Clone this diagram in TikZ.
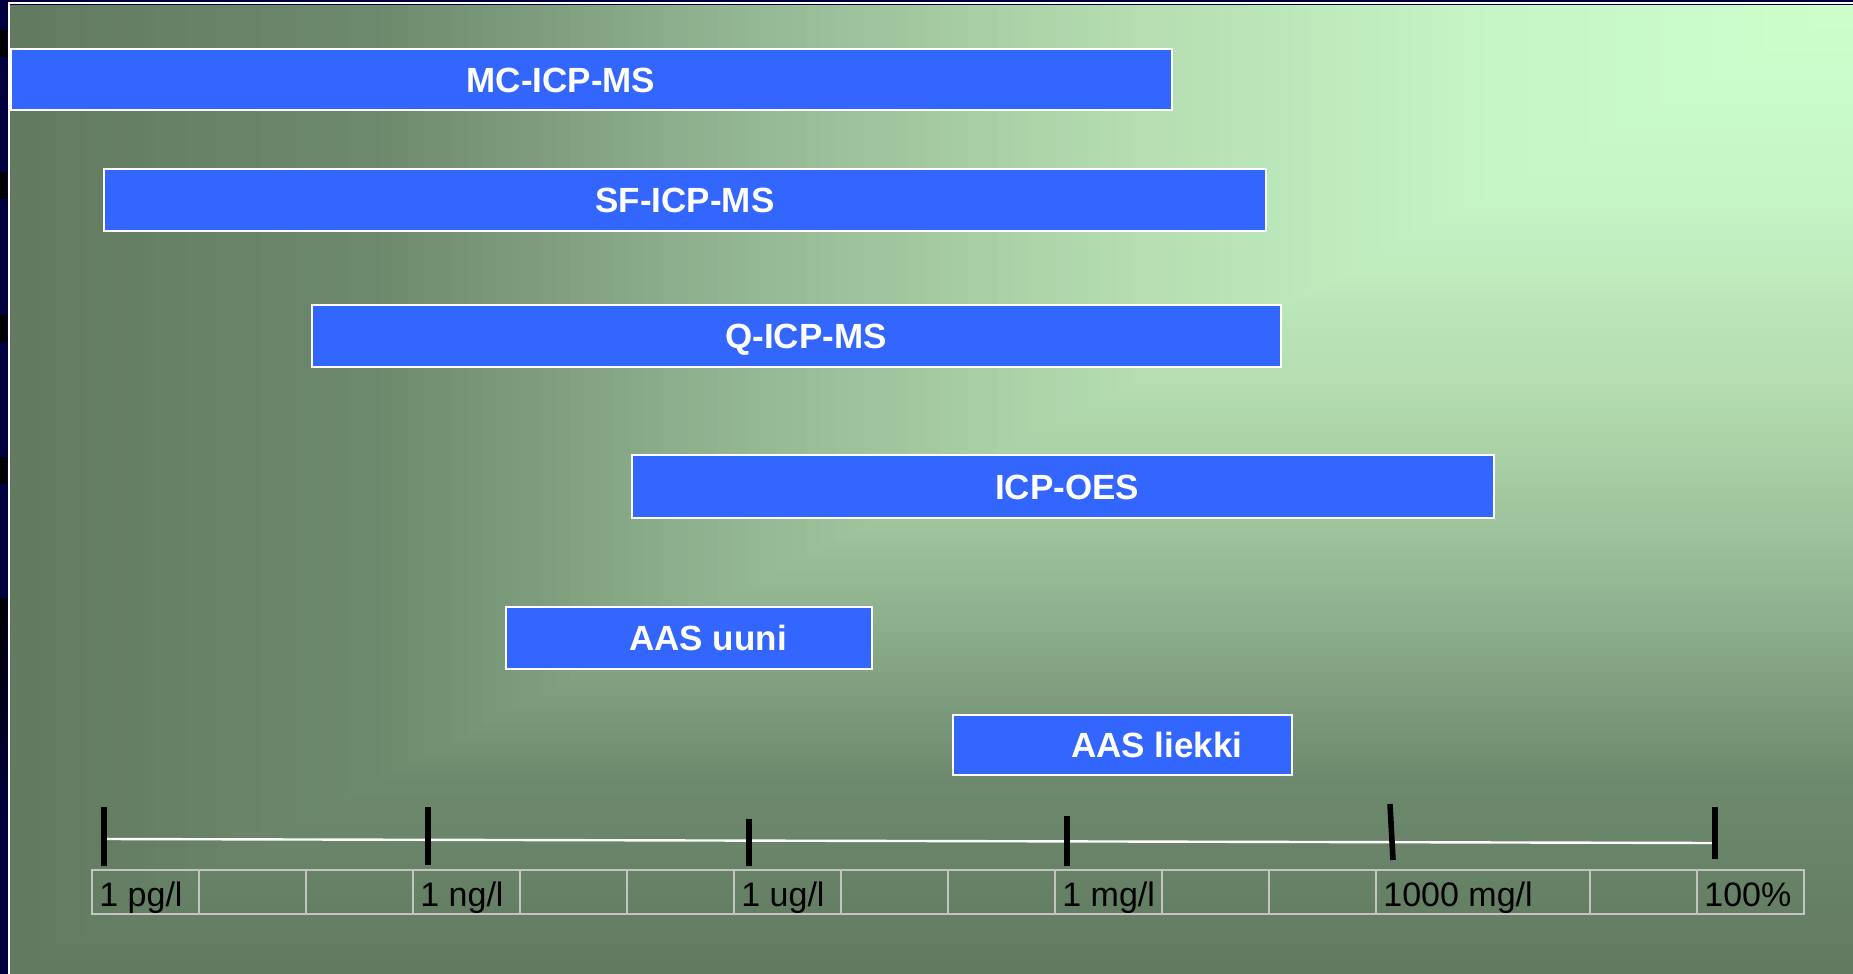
\documentclass[tikz,border=0pt]{standalone}
\usepackage{fontspec}
\setmainfont{Liberation Sans}
\definecolor{navy}{HTML}{00003F}
\definecolor{barblue}{HTML}{3366FF}
\definecolor{cellgray}{HTML}{C4C4C4}
\definecolor{bgA}{HTML}{617A60}
\definecolor{bgB}{HTML}{6E8A6E}
\definecolor{bgC}{HTML}{95B894}
\definecolor{bgD}{HTML}{B4DCB0}
\definecolor{bgE}{HTML}{C6F5C6}
\definecolor{bgF}{HTML}{CCFFCC}
\begin{document}
\begin{tikzpicture}[x=0.5pt, y=-0.5pt,
    bar/.style={fill=barblue, draw=white, line width=1.2pt},
    barlabel/.style={text=white, font=\fontsize{17.5}{20}\selectfont\bfseries, inner sep=0pt, text depth=0pt},
    tick/.style={black, line width=2.8pt},
    cell/.style={cellgray, line width=1.4pt},
    unitlabel/.style={anchor=base west, inner sep=0pt, font=\fontsize{17}{20}\selectfont}]
        \useasboundingbox (0,0) rectangle (1853,974);
        \fill[navy] (0,0) rectangle (1853,974);
        \foreach \y in {30,172,315,457} \fill[black] (0,\y) rectangle (7,\y+27);
        \shade[top color=black, bottom color=navy] (0,598) rectangle (7,830);

        % background, lighter towards the top right corner
        \foreach \ta/\tb/\ca/\cb in {1/0.8/bgA/bgB, 0.8/0.6/bgB/bgC, 0.6/0.4/bgC/bgD, 0.4/0.2/bgD/bgE, 0.2/0/bgE/bgF}
            \foreach \k in {0,...,24} {
                \pgfmathsetmacro{\t}{\ta-(\ta-\tb)*\k/25}
                \pgfmathsetmacro{\p}{4*\k}
                \fill[\cb!\p!\ca] ({1853-1843*\t},5) rectangle (1853,{5+969*\t});
            }
        \draw[white, line width=1pt] (8.5,974) -- (8.5,3.5) -- (1853,3.5);

        \draw[bar] (11,49) rectangle (1172,110);
        \draw[bar] (104,169) rectangle (1266,231);
        \draw[bar] (312,305) rectangle (1281,367);
        \draw[bar] (632,455) rectangle (1494,518);
        \draw[bar] (506,607) rectangle (872,669);
        \draw[bar] (953,715) rectangle (1292,775);

        \node[barlabel] (mc) at (561,80) {MC-ICP-MS};
        \node[barlabel] (sf) at (685,200) {SF-ICP-MS};
        \node[barlabel] (q) at (806,336) {Q-ICP-MS};
        \node[barlabel] (oes) at (1067,487) {ICP-OES};
        \node[barlabel] (uuni) at (708,638) {AAS uuni};
        \node[barlabel] (liekki) at (1157,745) {AAS liekki};

        % scale
        \draw[white, line width=1.2pt] (104,839) -- (1715,843);
        \draw[tick] (104,807) -- (104,866);
        \draw[tick] (428,807) -- (428,865);
        \draw[tick] (749,819) -- (749,866);
        \draw[tick] (1067,816) -- (1067,866);
        \draw[tick] (1390,804) -- (1393,860);
        \draw[tick] (1715,807) -- (1715,859);

        \draw[cell] (92,870) rectangle (1804,914);
        \foreach \k in {1,...,12,14,15}
            \draw[cell] (92+107*\k,870) -- (92+107*\k,914);
        \foreach \k/\txt/\nm in {0/1 pg\slash l/pg, 3/1 ng\slash l/ng, 6/1 ug\slash l/ug, 9/1 mg\slash l/mgl, 12/1000 mg\slash l/kmg, 15/100\%/pct}
            \node[unitlabel] (\nm) at (99+107*\k,906) {\txt};
\end{tikzpicture}
\end{document}
